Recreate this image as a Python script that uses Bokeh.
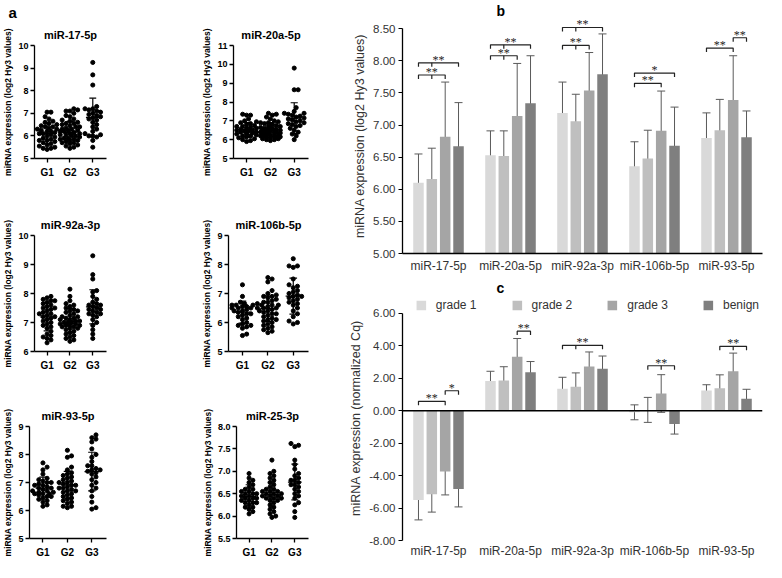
import numpy as np
from bokeh.plotting import figure
from bokeh.layouts import row, column
from bokeh.models import (Range1d, FixedTicker, NumeralTickFormatter, Title, Span,
                          Legend, LegendItem, Whisker, TeeHead, ColumnDataSource, LabelSet)
from bokeh.embed import file_html
from bokeh.resources import INLINE

FONT = "Liberation Sans"

# ---------------- panel a: individual values (log2 Hy3) ----------------
a_groups = ["G1", "G2", "G3"]

mir17_g1 = [7.05, 7.05, 6.85, 6.75, 6.65, 6.6, 6.55, 6.5, 6.45, 6.4, 6.35, 6.3, 6.3, 6.25, 6.2,
            6.15, 6.1, 6.1, 6.05, 6.0, 5.95, 5.9, 5.85, 5.8, 5.8, 5.75, 5.7, 5.65, 5.6, 5.55,
            5.5, 5.45, 5.4, 5.45, 6.2, 6.4]
mir17_g2 = [7.2, 7.15, 7.1, 7.1, 7.0, 6.9, 6.85, 6.75, 6.7, 6.65, 6.6, 6.55, 6.5, 6.45, 6.4,
            6.4, 6.35, 6.3, 6.3, 6.25, 6.2, 6.2, 6.15, 6.1, 6.1, 6.05, 6.0, 6.0, 5.95, 5.9,
            5.9, 5.85, 5.8, 5.8, 5.75, 5.7, 5.7, 5.65, 5.6, 5.55, 5.5, 5.45, 6.05, 6.25, 5.85, 6.55]
mir17_g3 = [9.25, 8.7, 8.25, 7.3, 7.2, 7.15, 7.1, 7.05, 7.0, 6.95, 6.9, 6.8, 6.75, 6.7, 6.6,
            6.5, 6.4, 6.3, 6.2, 6.1, 6.05, 6.0, 6.0, 5.95, 5.8, 5.5, 7.2, 6.85]

mir20_g1 = [7.35, 7.3, 7.3, 7.1, 7.0, 6.95, 6.9, 6.85, 6.8, 6.75, 6.7, 6.7, 6.65, 6.6, 6.55,
            6.5, 6.5, 6.45, 6.4, 6.4, 6.35, 6.3, 6.3, 6.25, 6.2, 6.15, 6.1, 6.05, 6.0, 5.95,
            5.9, 6.6, 6.45, 6.2]
mir20_g2 = [7.4, 7.35, 7.3, 7.2, 7.1, 7.0, 6.95, 6.9, 6.85, 6.8, 6.75, 6.7, 6.65, 6.6, 6.6,
            6.55, 6.5, 6.5, 6.45, 6.45, 6.4, 6.4, 6.35, 6.35, 6.3, 6.3, 6.25, 6.25, 6.2, 6.2,
            6.15, 6.15, 6.1, 6.1, 6.05, 6.05, 6.0, 6.0, 5.95, 6.7, 6.5, 6.35, 6.2, 6.4, 6.55, 6.9]
mir20_g3 = [9.8, 8.65, 8.65, 7.7, 7.5, 7.4, 7.35, 7.3, 7.25, 7.2, 7.15, 7.1, 7.0, 6.95, 6.9,
            6.85, 6.8, 6.7, 6.6, 6.5, 6.4, 6.3, 6.2, 6.0, 7.05, 6.75, 7.4]

mir92_g1 = [7.9, 7.85, 7.8, 7.75, 7.7, 7.65, 7.6, 7.55, 7.5, 7.45, 7.4, 7.35, 7.3, 7.25, 7.2,
            7.2, 7.15, 7.1, 7.05, 7.0, 6.95, 6.9, 6.85, 6.8, 6.7, 6.6, 6.55, 6.5, 6.45, 6.4,
            6.3, 7.75, 7.5, 7.3]
mir92_g2 = [8.15, 7.9, 7.75, 7.65, 7.6, 7.55, 7.5, 7.45, 7.4, 7.35, 7.3, 7.25, 7.2, 7.15, 7.15,
            7.1, 7.1, 7.05, 7.05, 7.0, 7.0, 6.95, 6.95, 6.9, 6.9, 6.85, 6.85, 6.8, 6.75, 6.7,
            6.65, 6.6, 6.55, 6.5, 6.45, 6.4, 6.35, 7.0, 7.2, 6.8, 7.4, 6.9]
mir92_g3 = [9.3, 8.65, 8.5, 8.1, 8.05, 7.9, 7.8, 7.7, 7.65, 7.6, 7.55, 7.5, 7.45, 7.4, 7.35,
            7.3, 7.3, 7.25, 7.2, 7.1, 7.0, 6.9, 6.75, 6.6, 6.45, 7.45, 7.6]

mir106_g1 = [7.3, 6.9, 6.7, 6.65, 6.6, 6.6, 6.55, 6.55, 6.5, 6.5, 6.45, 6.4, 6.4, 6.35, 6.3,
             6.25, 6.2, 6.15, 6.1, 6.0, 5.95, 5.9, 5.9, 5.85, 5.8, 5.6, 5.55, 6.6, 6.5, 6.3]
mir106_g2 = [7.55, 7.5, 7.4, 7.1, 7.0, 6.95, 6.9, 6.85, 6.8, 6.75, 6.7, 6.7, 6.65, 6.6, 6.6,
             6.55, 6.5, 6.5, 6.45, 6.4, 6.4, 6.35, 6.3, 6.25, 6.2, 6.15, 6.1, 6.05, 6.0, 5.95,
             5.9, 5.85, 5.8, 5.75, 5.7, 5.65, 6.5, 6.6, 6.3, 6.9, 6.1]
mir106_g3 = [8.2, 7.95, 7.95, 7.9, 7.5, 7.3, 7.25, 7.2, 7.1, 7.05, 7.0, 6.95, 6.9, 6.85, 6.8,
             6.75, 6.7, 6.6, 6.5, 6.4, 6.3, 6.2, 6.05, 6.0, 5.95, 6.65, 6.9]

mir93_g1 = [7.7, 7.55, 7.45, 7.3, 7.15, 7.1, 7.05, 7.0, 6.95, 6.9, 6.85, 6.8, 6.75, 6.7, 6.65,
            6.65, 6.6, 6.6, 6.55, 6.5, 6.5, 6.45, 6.4, 6.35, 6.3, 6.2, 6.15, 6.8, 6.7, 6.9,
            6.6, 7.0]
mir93_g2 = [8.15, 7.95, 7.9, 7.55, 7.45, 7.35, 7.3, 7.2, 7.15, 7.1, 7.05, 7.0, 6.95, 6.9, 6.85,
            6.8, 6.8, 6.75, 6.7, 6.65, 6.6, 6.55, 6.5, 6.45, 6.4, 6.35, 6.3, 6.25, 6.15, 6.1,
            6.15, 6.9, 7.0, 6.7, 7.25]
mir93_g3 = [8.7, 8.6, 8.55, 8.45, 8.2, 8.0, 7.9, 7.75, 7.6, 7.5, 7.45, 7.4, 7.35, 7.3, 7.2,
            7.1, 7.0, 6.9, 6.8, 6.7, 6.5, 6.3, 6.1, 6.05, 7.6, 7.45]

mir25_g1 = [6.95, 6.85, 6.8, 6.75, 6.7, 6.65, 6.6, 6.55, 6.55, 6.5, 6.5, 6.45, 6.45, 6.4, 6.4,
            6.35, 6.35, 6.3, 6.3, 6.25, 6.2, 6.2, 6.15, 6.1, 6.05, 6.5, 6.4, 6.6, 6.3]
mir25_g2 = [7.25, 7.0, 6.95, 6.9, 6.85, 6.8, 6.75, 6.7, 6.65, 6.6, 6.55, 6.55, 6.5, 6.5, 6.45,
            6.45, 6.4, 6.4, 6.35, 6.3, 6.25, 6.2, 6.15, 6.1, 6.05, 6.0, 5.97, 6.5, 6.45, 6.6,
            6.35, 6.55, 6.4]
mir25_g3 = [7.62, 7.58, 7.55, 7.25, 7.15, 7.05, 6.95, 6.9, 6.85, 6.8, 6.75, 6.7, 6.65, 6.6,
            6.55, 6.5, 6.45, 6.4, 6.3, 6.25, 6.1, 5.97, 6.8, 6.7]
mir25_mean = [6.44, 6.48, 6.76]
mir25_sd = [0.26, 0.28, 0.40]

# ---------------- panel b: mean (SD) log2 Hy3 ----------------
mirnas = ["miR-17-5p", "miR-20a-5p", "miR-92a-3p", "miR-106b-5p", "miR-93-5p"]
series_names = ["grade 1", "grade 2", "grade 3", "benign"]
b_grade1 = [6.10, 6.53, 7.19, 6.36, 6.80]
b_grade1_sd = [0.45, 0.38, 0.48, 0.38, 0.39]
b_grade2 = [6.16, 6.52, 7.06, 6.48, 6.92]
b_grade2_sd = [0.48, 0.39, 0.42, 0.44, 0.48]
b_grade3 = [6.82, 7.14, 7.54, 6.91, 7.39]
b_grade3_sd = [0.85, 0.82, 0.59, 0.62, 0.69]
b_benign = [6.67, 7.34, 7.79, 6.68, 6.81]
b_benign_sd = [0.68, 0.74, 0.63, 0.60, 0.41]
b_yticks = [5.0, 5.5, 6.0, 6.5, 7.0, 7.5, 8.0, 8.5]

b_sig_mirna = [0, 0, 1, 1, 2, 2, 3, 3, 4, 4]
b_sig_from = [0, 0, 0, 0, 0, 0, 0, 0, 0, 2]
b_sig_to = [2, 3, 2, 3, 2, 3, 2, 3, 2, 3]
b_sig_mid = [1, 1, 1, 1, 1, 1, -1, -1, -1, -1]
b_sig_y = [7.78, 7.97, 8.08, 8.25, 8.24, 8.52, 7.65, 7.81, 8.20, 8.36]
b_sig_text = ["**", "**", "**", "**", "**", "**", "**", "*", "**", "**"]

# ---------------- panel c: mean (SD) normalized Cq ----------------
c_grade1 = [-5.51, 1.83, 1.36, -0.10, 1.24]
c_grade1_sd = [1.22, 0.60, 0.70, 0.46, 0.36]
c_grade2 = [-5.15, 1.86, 1.48, 0.05, 1.38]
c_grade2_sd = [1.10, 0.85, 0.85, 0.77, 0.83]
c_grade3 = [-3.74, 3.32, 2.73, 1.06, 2.43]
c_grade3_sd = [1.45, 1.13, 0.89, 1.16, 1.12]
c_benign = [-4.83, 2.37, 2.59, -0.82, 0.74]
c_benign_sd = [1.10, 0.66, 0.78, 0.62, 0.58]
c_yticks = [-8, -6, -4, -2, 0, 2, 4, 6]

c_sig_mirna = [0, 0, 1, 2, 3, 4]
c_sig_from = [0, 2, 2, 0, 1, 1]
c_sig_to = [2, 3, 3, 3, 3, 3]
c_sig_mid = [-1, -1, -1, 1, 2, 2]
c_sig_y = [0.58, 1.23, 4.90, 4.03, 2.77, 3.97]
c_sig_text = ["**", "*", "**", "**", "**", "**"]

# ---------------- styling ----------------
BAR_COLORS = ["#d9d9d9", "#bfbfbf", "#a5a5a5", "#7f7f7f"]
ERR_COLOR = "#5a5a5a"
TXT = "#333333"
OFFS = [-0.278, -0.093, 0.093, 0.278]
BAR_W = 0.146


def swarm_offsets(vals, ppu_y, ppu_x, d=4.2, max_off=11.0):
    vals = np.asarray(vals, float)
    order = np.argsort(vals, kind="stable")
    step = d * 0.5
    cands = [0.0]
    j = 1
    while j * step <= max_off:
        cands += [j * step, -j * step]
        j += 1
    placed = []
    out = np.zeros(len(vals))
    for i in order:
        y = vals[i] * ppu_y
        chosen, best_c, best_d = None, 0.0, -1.0
        for c in cands:
            md = min((np.hypot(c - px, y - py) for px, py in placed), default=1e9)
            if md >= d:
                chosen = c
                break
            if md > best_d:
                best_d, best_c = md, c
        if chosen is None:
            chosen = best_c
        placed.append((chosen, y))
        out[i] = chosen / ppu_x
    return out


def panel_a(name, data, means, sds, yr, ticks, fmt, width, height, bl, bt, bb, fw, letter=None):
    xr = (0.45, 3.6)
    fh = height - bt - bb
    p = figure(width=width, height=height, x_range=Range1d(*xr), y_range=Range1d(*yr),
               output_backend="svg", toolbar_location=None,
               min_border_left=bl, min_border_right=width - bl - fw,
               min_border_top=bt, min_border_bottom=bb)
    p.add_layout(Title(text=name, align="center", text_font=FONT, text_font_size="11px",
                       text_font_style="bold", text_color="black", standoff=10), "above")
    if letter:
        p.add_layout(Title(text=letter, align="left", offset=-bl + 2, text_font=FONT,
                           text_font_size="15px", text_font_style="bold", text_color="black",
                           standoff=2), "above")
    ppu_y = fh / (yr[1] - yr[0])
    ppu_x = fw / (xr[1] - xr[0])
    xs, ys = [], []
    for gi, vals in enumerate(data):
        off = swarm_offsets(vals, ppu_y, ppu_x)
        xs += list(gi + 1 + off)
        ys += list(vals)
    p.scatter(xs, ys, marker="circle", size=4.1, color="black")
    gx = np.arange(1, 4)
    m = np.asarray(means)
    s = np.asarray(sds)
    kw = dict(line_color="black", line_width=1.2)
    p.segment(gx - 0.3, m, gx + 0.3, m, **kw)
    p.segment(gx, m - s, gx, m + s, **kw)
    p.segment(gx - 0.15, m + s, gx + 0.15, m + s, **kw)
    p.segment(gx - 0.15, m - s, gx + 0.15, m - s, **kw)

    for ax in (p.xaxis[0], p.yaxis[0]):
        ax.axis_line_color = "black"
        ax.axis_line_width = 1.3
        ax.major_tick_line_color = "black"
        ax.major_tick_line_width = 1.3
        ax.major_tick_out = 4
        ax.major_tick_in = 0
        ax.minor_tick_line_color = None
        ax.major_label_text_font = FONT
        ax.major_label_text_font_style = "bold"
        ax.major_label_text_color = "black"
    p.yaxis.major_label_text_font_size = "9px"
    p.xaxis.major_label_text_font_size = "10px"
    p.yaxis.ticker = FixedTicker(ticks=ticks)
    p.yaxis.formatter = NumeralTickFormatter(format=fmt)
    p.yaxis.major_label_standoff = 2
    p.yaxis.axis_label = "miRNA expression (log2 Hy3 values)"
    p.yaxis.axis_label_text_font = FONT
    p.yaxis.axis_label_text_font_size = "8.5px"
    p.yaxis.axis_label_text_font_style = "bold"
    p.yaxis.axis_label_text_color = "black"
    p.yaxis.axis_label_standoff = 2
    p.xaxis.ticker = FixedTicker(ticks=[1, 2, 3])
    p.xaxis.major_label_overrides = {i + 1: g for i, g in enumerate(a_groups)}
    p.xaxis.major_label_standoff = 4
    p.grid.visible = False
    p.outline_line_color = None
    return p


def bar_panel(means, sds, yr, bounds, ticks, ylabel, base, width, height, bl, bt, bb,
              sig, tick_px, x_axis_line):
    fh = height - bt - bb
    p = figure(width=width, height=height, x_range=Range1d(0.5, 5.5), y_range=Range1d(*yr),
               output_backend="svg", toolbar_location=None,
               min_border_left=bl, min_border_right=2, min_border_top=bt, min_border_bottom=bb)
    rends = []
    for g in range(4):
        x = [i + 1 + OFFS[g] for i in range(len(mirnas))]
        r = p.vbar(x=x, top=means[g], bottom=base, width=BAR_W,
                   fill_color=BAR_COLORS[g], line_color=None)
        rends.append(r)
        src = ColumnDataSource(dict(x=x,
                                    up=[v + e for v, e in zip(means[g], sds[g])],
                                    lo=[v - e for v, e in zip(means[g], sds[g])]))
        p.add_layout(Whisker(base="x", upper="up", lower="lo", source=src,
                             line_color=ERR_COLOR, line_width=1,
                             upper_head=TeeHead(size=8, line_color=ERR_COLOR, line_width=1),
                             lower_head=TeeHead(size=8, line_color=ERR_COLOR, line_width=1)))
    # significance brackets
    mir, frm, to, mid, ys, texts = sig
    tick = tick_px * (yr[1] - yr[0]) / fh
    lx, ly, tx, ty = [], [], [], []
    for mi, f, t, md, y in zip(mir, frm, to, mid, ys):
        x1 = mi + 1 + OFFS[f]
        x2 = mi + 1 + OFFS[t]
        lx.append([x1, x1, x2, x2])
        ly.append([y - tick, y, y, y - tick])
        if md >= 0:
            xm = mi + 1 + OFFS[md]
            lx.append([xm, xm])
            ly.append([y, y - tick])
        tx.append((x1 + x2) / 2)
        ty.append(y)
    p.multi_line(lx, ly, line_color="#222222", line_width=1.2)
    p.add_layout(LabelSet(x="x", y="y", text="t",
                          source=ColumnDataSource(dict(x=tx, y=ty, t=texts)),
                          text_align="center", text_baseline="middle", y_offset=3,
                          text_font=FONT, text_font_size="12px", text_color="#222222"))

    p.yaxis.bounds = bounds
    p.yaxis.ticker = FixedTicker(ticks=ticks)
    p.yaxis.formatter = NumeralTickFormatter(format="0.00")
    p.yaxis.axis_line_color = "black"
    p.yaxis.axis_line_width = 1.3
    p.yaxis.major_tick_line_color = "black"
    p.yaxis.major_tick_line_width = 1.2
    p.yaxis.major_tick_out = 4
    p.yaxis.major_tick_in = 0
    p.yaxis.minor_tick_line_color = None
    p.yaxis.major_label_standoff = 3
    p.yaxis.major_label_text_font = FONT
    p.yaxis.major_label_text_font_size = "11.5px"
    p.yaxis.major_label_text_color = TXT
    p.yaxis.axis_label = ylabel
    p.yaxis.axis_label_text_font = FONT
    p.yaxis.axis_label_text_font_size = "12.5px"
    p.yaxis.axis_label_text_font_style = "normal"
    p.yaxis.axis_label_text_color = TXT
    p.yaxis.axis_label_standoff = 3

    p.xaxis.ticker = FixedTicker(ticks=list(range(1, len(mirnas) + 1)))
    p.xaxis.major_label_overrides = {i + 1: m for i, m in enumerate(mirnas)}
    p.xaxis.major_tick_line_color = None
    p.xaxis.major_tick_out = 0
    p.xaxis.minor_tick_line_color = None
    p.xaxis.major_label_text_font = FONT
    p.xaxis.major_label_text_font_size = "12px"
    p.xaxis.major_label_text_color = TXT
    if x_axis_line:
        p.xaxis.axis_line_color = "black"
        p.xaxis.axis_line_width = 1.5
        p.xaxis.major_label_standoff = 5
    else:
        p.xaxis.axis_line_color = None
        p.xaxis.major_label_standoff = 3
    p.grid.visible = False
    p.outline_line_color = None
    return p, rends


# ---------------- build panel a ----------------
W1, W2 = 199, 147
R1, R2, R3 = 191, 193, 176
a1 = panel_a("miR-17-5p", [mir17_g1, mir17_g2, mir17_g3],
             [b_grade1[0], b_grade2[0], b_grade3[0]], [b_grade1_sd[0], b_grade2_sd[0], b_grade3_sd[0]],
             (5, 10), [5, 6, 7, 8, 9, 10], "0", W1, R1, 28, 40, 33, 78, letter="a")
a2 = panel_a("miR-20a-5p", [mir20_g1, mir20_g2, mir20_g3],
             [b_grade1[1], b_grade2[1], b_grade3[1]], [b_grade1_sd[1], b_grade2_sd[1], b_grade3_sd[1]],
             (5, 11), [5, 6, 7, 8, 9, 10, 11], "0", W2, R1, 29, 40, 33, 80)
a3 = panel_a("miR-92a-3p", [mir92_g1, mir92_g2, mir92_g3],
             [b_grade1[2], b_grade2[2], b_grade3[2]], [b_grade1_sd[2], b_grade2_sd[2], b_grade3_sd[2]],
             (6, 10), [6, 7, 8, 9, 10], "0", W1, R2, 28, 44, 33, 78)
a4 = panel_a("miR-106b-5p", [mir106_g1, mir106_g2, mir106_g3],
             [b_grade1[3], b_grade2[3], b_grade3[3]], [b_grade1_sd[3], b_grade2_sd[3], b_grade3_sd[3]],
             (5, 9), [5, 6, 7, 8, 9], "0", W2, R2, 29, 44, 33, 80)
a5 = panel_a("miR-93-5p", [mir93_g1, mir93_g2, mir93_g3],
             [b_grade1[4], b_grade2[4], b_grade3[4]], [b_grade1_sd[4], b_grade2_sd[4], b_grade3_sd[4]],
             (5, 9), [5, 6, 7, 8, 9], "0", W1, R3, 28, 42, 19, 78)
a6 = panel_a("miR-25-3p", [mir25_g1, mir25_g2, mir25_g3], mir25_mean, mir25_sd,
             (5.5, 8.0), [5.5, 6.0, 6.5, 7.0, 7.5, 8.0], "0.0", W2, R3, 29, 42, 19, 80)

# ---------------- build panels b and c ----------------
WR = 418
pb, _ = bar_panel([b_grade1, b_grade2, b_grade3, b_benign],
                  [b_grade1_sd, b_grade2_sd, b_grade3_sd, b_benign_sd],
                  (5, 8.66), (5, 8.5), b_yticks, "miRNA expression (log2 Hy3 values)", 5,
                  WR, 277, 50, 13, 24,
                  (b_sig_mirna, b_sig_from, b_sig_to, b_sig_mid, b_sig_y, b_sig_text), 4, True)
pb.add_layout(Title(text="b", align="left", offset=94, text_font=FONT, text_font_size="14px",
                    text_font_style="bold", text_color="black", standoff=0), "above")

pc, rends = bar_panel([c_grade1, c_grade2, c_grade3, c_benign],
                      [c_grade1_sd, c_grade2_sd, c_grade3_sd, c_benign_sd],
                      (-8, 7.1), (-8, 6), c_yticks, "miRNA expression (normalized Cq)", 0,
                      WR, 283, 50, 16, 15,
                      (c_sig_mirna, c_sig_from, c_sig_to, c_sig_mid, c_sig_y, c_sig_text), 4, False)
pc.add_layout(Span(location=0, dimension="width", line_color="black", line_width=1.5))
legend = Legend(items=[LegendItem(label=n, renderers=[r]) for n, r in zip(series_names, rends)],
                orientation="horizontal", location="top_right",
                glyph_width=12, glyph_height=12,
                label_standoff=9, spacing=34, padding=0, margin=3, border_line_color=None,
                background_fill_alpha=0, label_text_font=FONT, label_text_font_size="12px",
                label_text_color=TXT, label_height=12)
pc.add_layout(legend)
pc.add_layout(Title(text="c", align="left", offset=94, text_font=FONT, text_font_size="14px",
                    text_font_style="bold", text_color="black", standoff=0), "above")

layout = row(column(row(a1, a2), row(a3, a4), row(a5, a6)), column(pb, pc))

open("out.html", "w").write(file_html(layout, INLINE))
